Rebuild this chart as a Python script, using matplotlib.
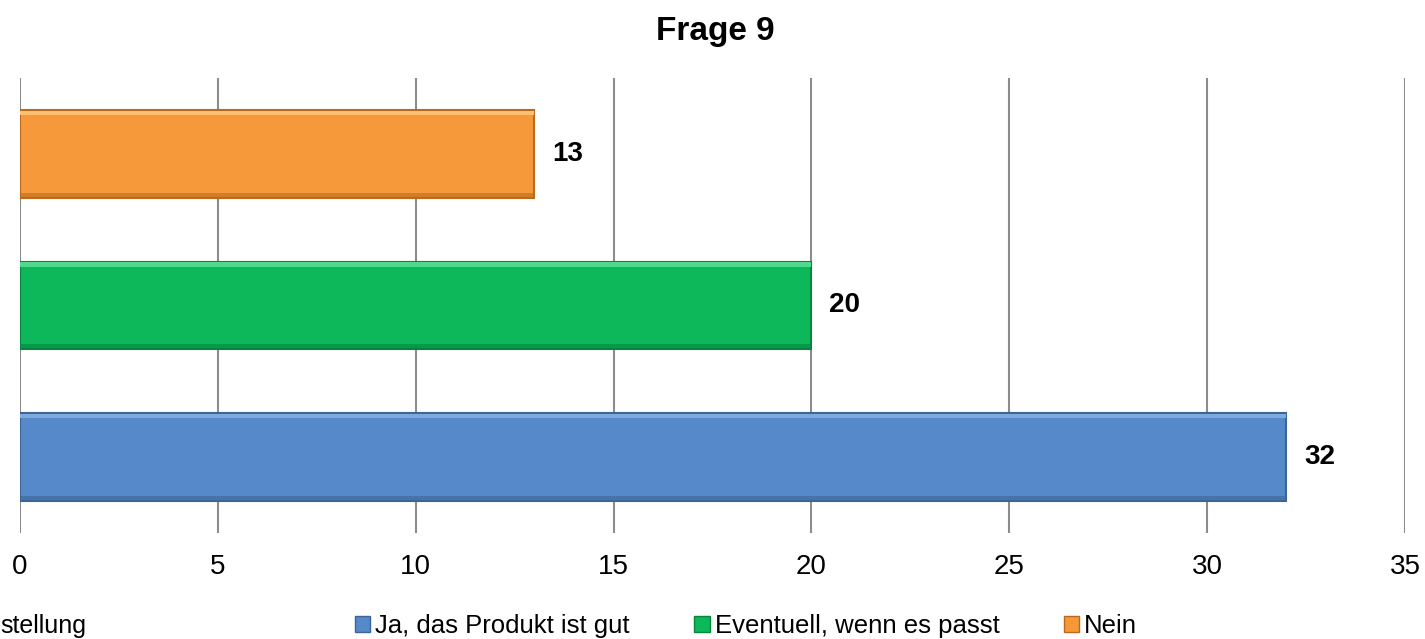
import matplotlib.pyplot as plt
from matplotlib.patches import Patch

plt.rcParams['font.family'] = ['Liberation Sans', 'DejaVu Sans']

# Data
categories = ['Ja, das Produkt ist gut', 'Eventuell, wenn es passt', 'Nein']
values = [32, 20, 13]
colors = ['#5689C9', '#0CB85A', '#F5993A']
light_colors = ['#7FA8DC', '#4FD98A', '#FDC070']
edge_colors = ['#3B6596', '#07843F', '#B96A1C']
x_ticks = [0, 5, 10, 15, 20, 25, 30, 35]

fig = plt.figure(figsize=(14.25, 6.39), dpi=100)
ax = fig.add_axes([20 / 1425, 106 / 639, 1385 / 1425, 455 / 639])

# Bars
positions = list(range(len(categories)))
bar_h = 0.58
ax.barh(positions, values, height=bar_h, color=colors, edgecolor=edge_colors,
        linewidth=1.5, zorder=3)

# light bevel along the top of each bar, darker along the bottom
ax.barh([p + bar_h / 2 - 0.02 for p in positions], values, height=0.03,
        color=light_colors, linewidth=0, zorder=4)
ax.barh([p - bar_h / 2 + 0.02 for p in positions], values, height=0.03,
        color=edge_colors, alpha=0.6, linewidth=0, zorder=4)

# Value labels
for pos, val in zip(positions, values):
    ax.text(val + 0.45, pos, str(val), va='center', ha='left',
            fontsize=20, fontweight='bold', color='black')

# Axis styling
ax.set_xlim(0, 35)
ax.set_ylim(-0.5, 2.5)
ax.set_xticks(x_ticks)
ax.set_yticks([])
ax.tick_params(axis='x', length=0, pad=15, labelsize=20)
for spine in ax.spines.values():
    spine.set_visible(False)
ax.grid(axis='x', color='#8C8C8C', linewidth=1.5, zorder=0)

# Title
fig.text(0.502, 0.95, 'Frage 9', ha='center', va='center',
         fontsize=24, fontweight='bold')

# Axis caption (only its end is visible in the original)
fig.text(0.0, 0.02, 'stellung', ha='left', va='center', fontsize=18)

# Legend
handles = [Patch(facecolor=c, edgecolor=e, linewidth=1.0)
           for c, e in zip(colors, edge_colors)]
fig.legend(handles, categories, loc='center', bbox_to_anchor=(0.5235, 0.02),
           ncol=3, frameon=False, fontsize=18.5, handlelength=0.6,
           handleheight=0.6, handletextpad=0.2, columnspacing=2.5)

fig.savefig('out.png', dpi=100)
